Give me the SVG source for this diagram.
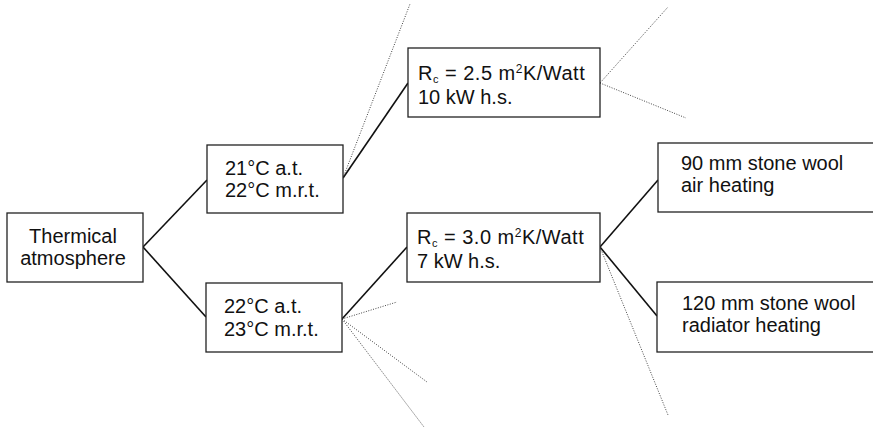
<svg xmlns="http://www.w3.org/2000/svg" width="873" height="428" viewBox="0 0 873 428">
<style>
.box{fill:#fff;stroke:#222;stroke-width:1.3}
.t{font-family:"Liberation Sans",Arial,sans-serif;font-size:20px;fill:#111}
.rc{letter-spacing:0.5px}
.sub{font-size:11px}
.sup{font-size:12px}
.solid{stroke:#111;stroke-width:1.6;fill:none}
.dot{stroke:#444;stroke-width:1;stroke-dasharray:1 1.5;fill:none}
</style>
<rect width="873" height="428" fill="#fff"/>
<g id="connectors">
<line class="solid" x1="143" y1="247" x2="207" y2="180"/>
<line class="solid" x1="143" y1="247" x2="206" y2="317"/>
<line class="solid" x1="343" y1="178" x2="408" y2="83"/>
<line class="solid" x1="342" y1="319" x2="407" y2="247"/>
<line class="solid" x1="600" y1="247" x2="658" y2="180"/>
<line class="solid" x1="600" y1="247" x2="657" y2="316"/>
<line class="dot" x1="343" y1="178" x2="410" y2="4"/>
<line class="dot" x1="600" y1="83" x2="668" y2="7"/>
<line class="dot" x1="600" y1="83" x2="686" y2="118"/>
<line class="dot" x1="342" y1="319" x2="397" y2="302"/>
<line class="dot" x1="342" y1="319" x2="427" y2="382"/>
<line class="dot" x1="342" y1="319" x2="424" y2="427"/>
<line class="dot" x1="600" y1="247" x2="668" y2="415"/>
</g>
<g id="thermical">
<rect class="box" x="7" y="213" width="136" height="69"/>
<text class="t" x="73" y="243" text-anchor="middle">Thermical</text>
<text class="t" x="73" y="265" text-anchor="middle">atmosphere</text>
</g>
<g id="t21">
<rect class="box" x="207" y="145" width="136" height="68"/>
<text class="t" x="225" y="175">21°C a.t.</text>
<text class="t" x="225" y="197">22°C m.r.t.</text>
</g>
<g id="t22">
<rect class="box" x="206" y="283" width="136" height="69"/>
<text class="t" x="224" y="313">22°C a.t.</text>
<text class="t" x="224" y="336">23°C m.r.t.</text>
</g>
<g id="rc25">
<rect class="box" x="408" y="48" width="192" height="69"/>
<text class="t rc" x="418" y="80">R<tspan class="sub" dy="3">c</tspan><tspan dy="-3"> = 2.5 m</tspan><tspan class="sup" dy="-7">2</tspan><tspan dy="7">K/Watt</tspan></text>
<text class="t" x="418" y="104">10 kW h.s.</text>
</g>
<g id="rc30">
<rect class="box" x="407" y="213" width="193" height="69"/>
<text class="t rc" x="417" y="244">R<tspan class="sub" dy="3">c</tspan><tspan dy="-3"> = 3.0 m</tspan><tspan class="sup" dy="-7">2</tspan><tspan dy="7">K/Watt</tspan></text>
<text class="t" x="417" y="268">7 kW h.s.</text>
</g>
<g id="wool90">
<rect class="box" x="658" y="143" width="225" height="69"/>
<text class="t" x="681" y="170">90 mm stone wool</text>
<text class="t" x="681" y="192">air heating</text>
</g>
<g id="wool120">
<rect class="box" x="657" y="282" width="226" height="70"/>
<text class="t" x="682" y="310">120 mm stone wool</text>
<text class="t" x="682" y="332">radiator heating</text>
</g>
</svg>
